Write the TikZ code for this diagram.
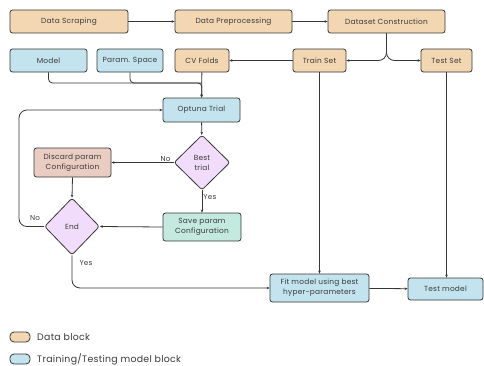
\documentclass[tikz,border=0pt]{standalone}
\usepackage{fontspec}
\setmainfont{Poppins}[LetterSpace=3]
\usetikzlibrary{shapes.geometric,arrows.meta}
\definecolor{datafill}{HTML}{F3D7B2}
\definecolor{modelfill}{HTML}{C3E4EF}
\definecolor{discardfill}{HTML}{EACDC2}
\definecolor{savefill}{HTML}{C4E9DE}
\definecolor{decfill}{HTML}{F2DCFB}
\definecolor{edge}{HTML}{363636}
\definecolor{txt}{HTML}{3A3A3A}
\tikzset{
  box/.style={draw=edge, line width=0.8pt, rounded corners=2.5pt, inner sep=1pt,
    minimum height=23pt, align=center, text=txt, font=\fontsize{7.4}{10}\selectfont},
  datab/.style={box, fill=datafill},
  modelb/.style={box, fill=modelfill},
  discardb/.style={box, fill=discardfill},
  saveb/.style={box, fill=savefill},
  decision/.style={diamond, draw=edge, line width=0.8pt, rounded corners=2.5pt, fill=decfill,
    inner sep=0pt, align=center, text=txt, font=\fontsize{7.4}{10}\selectfont},
  arr/.style={draw=edge, line width=0.8pt, -{Stealth[length=3pt,width=2.6pt]}},
  conn/.style={draw=edge, line width=0.8pt},
  lbl/.style={text=txt, font=\fontsize{7.2}{8}\selectfont, inner sep=1pt},
  swatch/.style={draw=edge, line width=0.8pt, rounded corners=4pt, minimum width=20pt, minimum height=10pt, inner sep=0pt},
  legtext/.style={text=txt, font=\fontsize{9.4}{11}\selectfont, anchor=west, inner sep=0pt}
}
\begin{document}
\begin{tikzpicture}[x=1pt,y=-1pt]
\useasboundingbox (0,0) rectangle (484,365);

% data pipeline
\node[datab, minimum width=118pt] (scrape) at (69,21.5) {Data Scraping};
\node[datab, minimum width=117pt] (prep) at (233.5,21.5) {Data Preprocessing};
\node[datab, minimum width=117pt] (dsc) at (386.5,21.5) {Dataset Construction};

% inputs and splits
\node[modelb, minimum width=77pt] (model) at (48.5,60.5) {Model};
\node[modelb, minimum width=66pt] (pspace) at (130,60.5) {Param. Space};
\node[datab, minimum width=54pt] (cv) at (202,60.5) {CV Folds};
\node[datab, minimum width=53pt] (train) at (319.5,60.5) {Train Set};
\node[datab, minimum width=51pt] (test) at (446.5,60.5) {Test Set};

% optimisation loop
\node[modelb, minimum width=77pt, minimum height=24pt] (optuna) at (201.5,110) {Optuna Trial};
\node[decision, minimum width=56pt, minimum height=55pt] (best) at (202,162.5) {Best\\trial};
\node[discardb, minimum width=77pt, minimum height=29pt] (discard) at (72.5,162.5) {Discard param\\Configuration};
\node[decision, minimum width=55pt, minimum height=57pt] (end) at (72,226.5) {End};
\node[saveb, minimum width=78pt, minimum height=28pt] (save) at (202,227) {Save param\\Configuration};

% final model
\node[modelb, minimum width=99pt, minimum height=28pt] (fit) at (319.5,288) {Fit model using best\\hyper-parameters};
\node[modelb, minimum width=75pt, minimum height=22pt] (testm) at (445.5,289) {Test model};

\coordinate (join) at (202,83);
\coordinate (loopx) at (19,0);

% connectors
\draw[arr] (scrape) -- (prep);
\draw[arr] (prep) -- (dsc);
\draw[arr, rounded corners=8pt] (dsc.south) |- (train.east);
\draw[arr, rounded corners=8pt] (dsc.south) |- (test.west);
\draw[arr] (train) -- (cv);
\draw[conn, rounded corners=4pt] (pspace.south) |- (join);
\draw[arr, rounded corners=4pt] (model.south) |- (join) -- (optuna.north);
\draw[arr] (cv) -- (optuna);
\draw[arr] (optuna) -- (best);
\draw[arr] (best.west) -- node[lbl, above, pos=0.13] {No} (discard.east);
\draw[arr] (best.south) -- node[lbl, right, pos=0.3] {Yes} (save.north);
\draw[arr] (save.west) -- (end.east);
\draw[arr] (discard.south) -- (end.north);
\draw[arr, rounded corners=8pt] (end.west) -- (end.west -| loopx) |- (optuna.west);
\node[lbl] (nolbl) at (35,218) {No};
\draw[arr, rounded corners=8pt] (end.south) |- (fit.west);
\node[lbl] (yeslbl) at (86,263) {Yes};
\draw[arr] (train.south) -- (train.south |- fit.north);
\draw[arr] (test.south) -- (test.south |- testm.north);
\draw[arr] (fit) -- (testm);

% legend
\node[swatch, fill=datafill] (legdata) at (20,337) {};
\node[legtext] (legdatat) at (37,337) {Data block};
\node[swatch, fill=modelfill] (legmodel) at (20,359) {};
\node[legtext] (legmodelt) at (37,359) {Training/Testing model block};
\end{tikzpicture}
\end{document}
